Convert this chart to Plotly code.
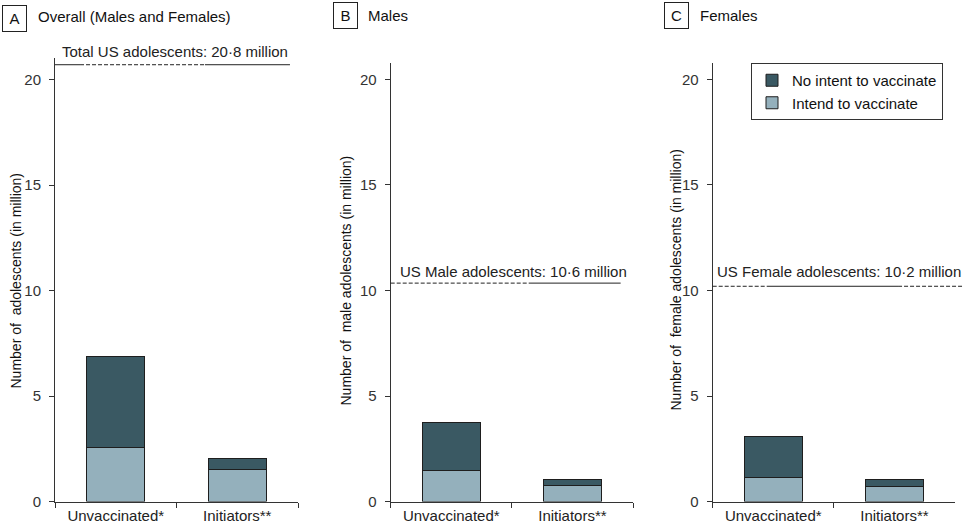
import plotly.graph_objects as go

# ---------------- data ----------------
categories = ["Unvaccinated*", "Initiators**"]
panel_letters = ["A", "B", "C"]
panel_titles = ["Overall (Males and Females)", "Males", "Females"]
y_titles = [
    "Number of\u00a0 adolescents (in million)",
    "Number of\u00a0 male adolescents (in million)",
    "Number of\u00a0 female adolescents (in million)",
]
intend_overall = [2.57, 1.51]
no_intent_overall = [4.32, 0.54]
intend_male = [1.48, 0.76]
no_intent_male = [2.27, 0.27]
intend_female = [1.14, 0.71]
no_intent_female = [1.93, 0.31]
population_labels = [
    "Total US adolescents: 20\u00b78 million",
    "US Male adolescents: 10\u00b76 million",
    "US Female adolescents: 10\u00b72 million",
]
population_lines = [20.7, 10.35, 10.2]
y_tick_values = [0, 5, 10, 15, 20]
series_names = ["Intend to vaccinate", "No intent to vaccinate"]

# ---------------- styling ----------------
FONT = "Liberation Sans, Arial, Helvetica, sans-serif"
DARK = "rgb(58,89,99)"
LIGHT = "rgb(148,176,188)"
EDGE = "#1e1e1e"
W, H = 965, 525

intend = [intend_overall, intend_male, intend_female]
no_intent = [no_intent_overall, no_intent_male, no_intent_female]

x_domains = [[55 / W, 298 / W], [390.7 / W, 633 / W], [712.7 / W, 955 / W]]
y_bottom = (H - 501.5) / H
y_domains = [[y_bottom, (H - 58.4) / H], [y_bottom, (H - 62.6) / H], [y_bottom, (H - 62.6) / H]]
y_ranges = [[0, 21], [0, 20.8], [0, 20.8]]

fig = go.Figure()
for i in range(3):
    xa = "x" if i == 0 else f"x{i+1}"
    ya = "y" if i == 0 else f"y{i+1}"
    fig.add_trace(go.Bar(
        x=categories, y=intend[i], name=series_names[0], xaxis=xa, yaxis=ya,
        marker=dict(color=LIGHT, line=dict(color=EDGE, width=1)), width=0.48,
        showlegend=(i == 0), legendgroup="intend",
    ))
    fig.add_trace(go.Bar(
        x=categories, y=no_intent[i], name=series_names[1], xaxis=xa, yaxis=ya,
        marker=dict(color=DARK, line=dict(color=EDGE, width=1)), width=0.48,
        showlegend=(i == 0), legendgroup="nointent",
    ))

layout = dict(
    width=W, height=H,
    margin=dict(l=0, r=0, t=0, b=0),
    paper_bgcolor="white", plot_bgcolor="white",
    barmode="stack",
    font=dict(family=FONT, size=15, color="#222"),
    legend=dict(
        x=943 / W, xanchor="right", y=(H - 63) / H, yanchor="top",
        bordercolor="#333", borderwidth=1, bgcolor="white",
        traceorder="reversed",
        font=dict(family=FONT, size=15, color="#111"),
    ),
)
for i in range(3):
    sx = "" if i == 0 else str(i + 1)
    layout[f"xaxis{sx}"] = dict(
        domain=x_domains[i], anchor=f"y{sx}", type="category", automargin=False,
        showline=True, linecolor="#333", linewidth=1,
        ticks="outside", ticklen=5, tickcolor="#333", tickson="boundaries",
        showgrid=False, zeroline=False, range=[-0.5, 1.5],
        tickfont=dict(family=FONT, size=15, color="#222"),
    )
    layout[f"yaxis{sx}"] = dict(
        domain=y_domains[i], anchor=f"x{sx}", range=y_ranges[i], automargin=False,
        showline=True, linecolor="#333", linewidth=1,
        ticks="outside", ticklen=5, tickcolor="#333",
        tickvals=y_tick_values, showgrid=False, zeroline=False,
        ticklabelstandoff=5,
        tickfont=dict(family=FONT, size=15, color="#333"),
    )
fig.update_layout(**layout)

# reference population lines (solid / dashed segments as drawn)
segments = [
    [(0.0, 0.103, "solid"), (0.103, 0.617, "4px,2px"), (0.617, 0.967, "solid")],
    [(0.0, 0.575, "4px,2px"), (0.575, 0.949, "solid")],
    [(0.0, 0.223, "4px,2px"), (0.223, 0.765, "solid"), (0.765, 1.029, "4px,2px")],
]
label_x = [0.02, 0.03, 0.01]
label_shift = [13, 12, 15]
for i in range(3):
    sx = "" if i == 0 else str(i + 1)
    for (a, b, dash) in segments[i]:
        fig.add_shape(type="line", xref=f"x{sx} domain", yref=f"y{sx}",
                      x0=a, x1=b, y0=population_lines[i], y1=population_lines[i],
                      line=dict(color="#222", width=1, dash=dash))
    fig.add_annotation(text=population_labels[i], xref=f"x{sx} domain", yref=f"y{sx}",
                       x=label_x[i], y=population_lines[i], xanchor="left", yanchor="middle",
                       yshift=label_shift[i], showarrow=False,
                       font=dict(family=FONT, size=15, color="#222"))

# y-axis titles
y_title_x = [15, 345, 675]
for i in range(3):
    fig.add_annotation(text=y_titles[i], xref="paper", yref="paper",
                       x=y_title_x[i] / W, y=(H - 280.5) / H, textangle=-90,
                       xanchor="center", yanchor="middle", showarrow=False,
                       font=dict(family=FONT, size=14, color="#111"))

# panel letters in boxes and panel titles
box_centers = [(14.7, 18.3), (345.2, 15.0), (676.3, 15.0)]
title_left = [36, 366, 697.7]
title_y = [16.7, 16.0, 16.0]
for i in range(3):
    cx, cy = box_centers[i]
    fig.add_annotation(text=panel_letters[i], xref="paper", yref="paper",
                       x=cx / W, y=(H - cy) / H, xanchor="center", yanchor="middle",
                       showarrow=False, width=17, height=19, borderpad=3,
                       bordercolor="#222", borderwidth=1,
                       font=dict(family=FONT, size=15, color="#111"))
    fig.add_annotation(text=panel_titles[i], xref="paper", yref="paper",
                       x=title_left[i] / W, y=(H - title_y[i]) / H,
                       xanchor="left", yanchor="middle", showarrow=False,
                       font=dict(family=FONT, size=15, color="#111"))

fig.write_html(
    "out.html",
    config={"displayModeBar": False},
    post_script="document.body.style.margin='0';document.body.style.overflow='hidden';",
)
